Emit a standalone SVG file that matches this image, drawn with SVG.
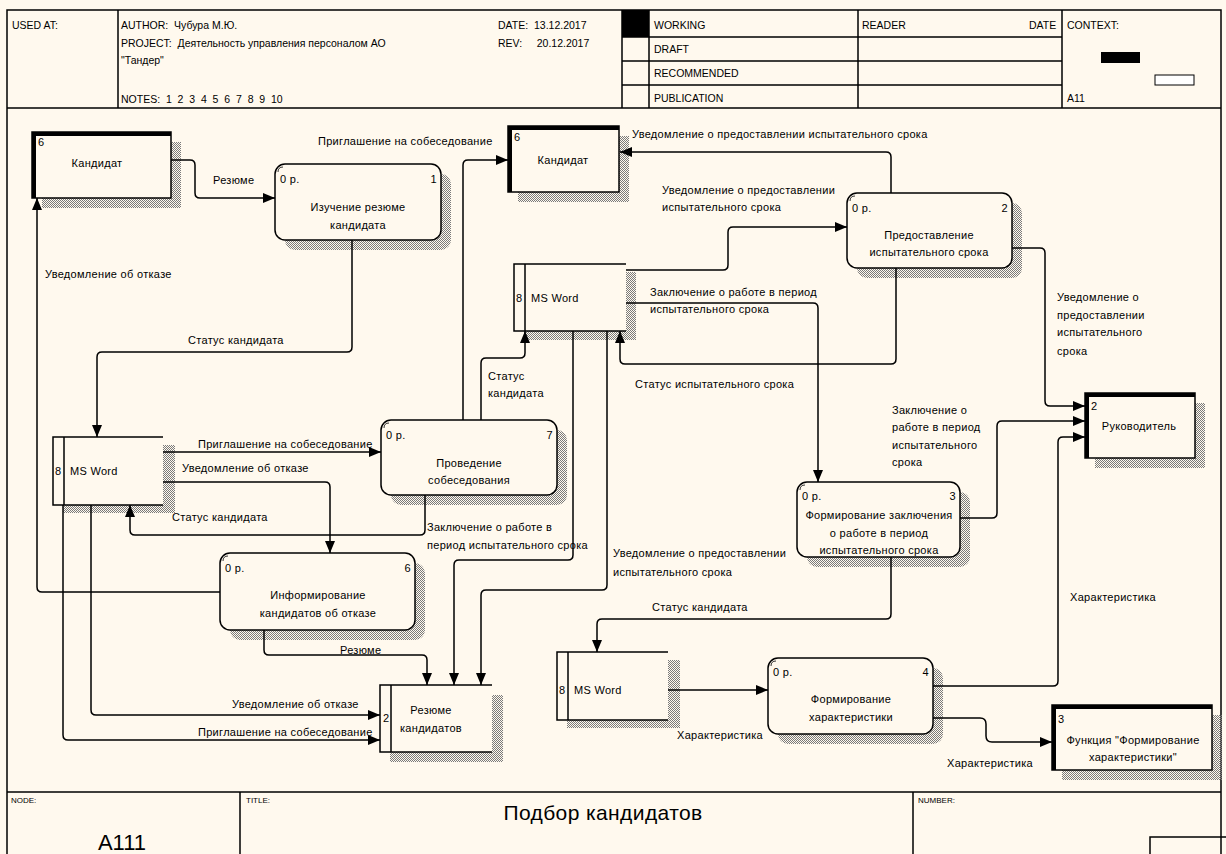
<svg xmlns="http://www.w3.org/2000/svg" width="1226" height="854" viewBox="0 0 1226 854">
<defs>
<pattern id="hatch" width="2" height="2" patternUnits="userSpaceOnUse"><rect width="1" height="1" fill="#7a7a7a"/><rect x="1" y="1" width="1" height="1" fill="#7a7a7a"/></pattern>
<marker id="ah" markerUnits="userSpaceOnUse" markerWidth="12" markerHeight="10" refX="12" refY="5" orient="auto"><path d="M0,0 L12,5 L0,10 z" fill="#000"/></marker>
<style>
text{font-family:"Liberation Sans",Arial,sans-serif;font-size:11px;fill:#000;letter-spacing:0.3px}
.m{text-anchor:middle}
.e{text-anchor:end}
.box{fill:#FFF9EE;stroke:#000;stroke-width:1.5}
.bg{fill:#FFF9EE}
.sh{fill:url(#hatch)}
.ln{fill:none;stroke:#000;stroke-width:1.5}
.a{marker-end:url(#ah)}
.thick{fill:none;stroke:#000;stroke-width:4}
.tick{fill:none;stroke:#000;stroke-width:0.8}
.hd{font-size:10.5px;letter-spacing:0}
.pre{white-space:pre}
.sm{font-size:8px;letter-spacing:0}
</style>
</defs>

<rect width="1226" height="854" class="bg"/>

<!-- drawing frame, header and footer -->
<g id="frame">
<rect x="7" y="10" width="1214" height="860" class="ln"/>
<path class="ln" d="M7,108 H1221 M118,10 V108 M622,10 V108 M649,10 V108 M858,10 V108 M1062,10 V108 M622,37 H1062 M622,61 H1062 M622,85 H1062"/>
<rect x="622" y="10" width="27" height="27" fill="#000"/>
<rect x="1101" y="52" width="39" height="11" fill="#000"/>
<rect x="1155" y="75" width="39" height="10" fill="#fff" stroke="#000" stroke-width="1"/>
<path class="ln" d="M7,792 H1221 M240,792 V854 M913,792 V854"/>
<rect x="1150" y="837" width="80" height="30" class="ln"/>
<text class="hd" x="12" y="29">USED AT:</text>
<text class="hd pre" xml:space="preserve" x="121" y="29">AUTHOR:  Чубура М.Ю.</text>
<text class="hd pre" xml:space="preserve" x="121" y="47">PROJECT:  Деятельность управления персоналом АО</text>
<text class="hd" x="121" y="64">"Тандер"</text>
<text class="hd pre" xml:space="preserve" x="121" y="103">NOTES:  1  2  3  4  5  6  7  8  9  10</text>
<text class="hd pre" xml:space="preserve" x="498" y="29">DATE:  13.12.2017</text>
<text class="hd pre" xml:space="preserve" x="498" y="47">REV:     20.12.2017</text>
<text class="hd" x="654" y="29">WORKING</text>
<text class="hd" x="654" y="53">DRAFT</text>
<text class="hd" x="654" y="77">RECOMMENDED</text>
<text class="hd" x="654" y="102">PUBLICATION</text>
<text class="hd" x="862" y="29">READER</text>
<text class="hd" x="1029" y="29">DATE</text>
<text class="hd" x="1067" y="29">CONTEXT:</text>
<text class="hd" x="1067" y="102">A11</text>
<text class="sm" x="11" y="803">NODE:</text>
<text class="sm" x="246" y="803">TITLE:</text>
<text class="sm" x="918" y="803">NUMBER:</text>
<text x="122" y="850" class="m" style="font-size:22px;letter-spacing:0">A111</text>
<text x="603" y="820" class="m" style="font-size:21px;letter-spacing:0.4px">Подбор кандидатов</text>
</g>

<!-- external entities -->
<g id="kandidat-1">
<rect class="sh" x="42" y="142" width="139" height="66"/>
<rect class="box" x="32" y="132" width="139" height="66"/>
<path class="thick" d="M34,198 V134 H171"/>
<text x="38" y="146">6</text>
<text class="m" x="97" y="167">Кандидат</text>
</g>
<g id="kandidat-2">
<rect class="sh" x="518" y="136" width="111" height="66"/>
<rect class="box" x="508" y="126" width="111" height="66"/>
<path class="thick" d="M510,192 V128 H619"/>
<text x="514" y="141">6</text>
<text class="m" x="563" y="164">Кандидат</text>
</g>
<g id="rukovoditel">
<rect class="sh" x="1095" y="403" width="110" height="65"/>
<rect class="box" x="1085" y="393" width="110" height="65"/>
<path class="thick" d="M1087,458 V395 H1195"/>
<text x="1091" y="410">2</text>
<text class="m" x="1139" y="430">Руководитель</text>
</g>
<g id="funkciya">
<rect class="sh" x="1062" y="715" width="160" height="65"/>
<rect class="box" x="1052" y="705" width="160" height="65"/>
<path class="thick" d="M1054,770 V707 H1212"/>
<text x="1058" y="723">3</text>
<text class="m" x="1133" y="744">Функция "Формирование</text>
<text class="m" x="1133" y="761">характеристики"</text>
</g>

<!-- processes -->
<g id="proc-1">
<rect class="sh" x="285" y="174" width="166" height="76" rx="10"/>
<rect class="box" x="275" y="164" width="166" height="76" rx="10"/>
<path class="tick" d="M278,172 Q278,167 283,167"/>
<text x="280" y="183">0 р.</text>
<text class="e" x="437" y="183">1</text>
<text class="m" x="358" y="211">Изучение резюме</text>
<text class="m" x="358" y="229">кандидата</text>
</g>
<g id="proc-2">
<rect class="sh" x="857" y="203" width="165" height="75" rx="10"/>
<rect class="box" x="847" y="193" width="165" height="75" rx="10"/>
<path class="tick" d="M850,201 Q850,196 855,196"/>
<text x="852" y="212">0 р.</text>
<text class="e" x="1008" y="212">2</text>
<text class="m" x="929" y="239">Предоставление</text>
<text class="m" x="929" y="256">испытательного срока</text>
</g>
<g id="proc-7">
<rect class="sh" x="391" y="430" width="176" height="75" rx="10"/>
<rect class="box" x="381" y="420" width="176" height="75" rx="10"/>
<path class="tick" d="M384,428 Q384,423 389,423"/>
<text x="386" y="439">0 р.</text>
<text class="e" x="553" y="439">7</text>
<text class="m" x="469" y="467">Проведение</text>
<text class="m" x="469" y="484">собеседования</text>
</g>
<g id="proc-3">
<rect class="sh" x="807" y="492" width="163" height="75" rx="10"/>
<rect class="box" x="797" y="482" width="163" height="75" rx="10"/>
<path class="tick" d="M800,490 Q800,485 805,485"/>
<text x="802" y="500">0 р.</text>
<text class="e" x="956" y="500">3</text>
<text class="m" x="879" y="519">Формирование заключения</text>
<text class="m" x="879" y="537">о работе в период</text>
<text class="m" x="879" y="554">испытательного срока</text>
</g>
<g id="proc-6">
<rect class="sh" x="230" y="563" width="195" height="77" rx="10"/>
<rect class="box" x="220" y="553" width="195" height="77" rx="10"/>
<path class="tick" d="M223,561 Q223,556 228,556"/>
<text x="225" y="572">0 р.</text>
<text class="e" x="411" y="572">6</text>
<text class="m" x="318" y="599">Информирование</text>
<text class="m" x="318" y="617">кандидатов об отказе</text>
</g>
<g id="proc-4">
<rect class="sh" x="778" y="668" width="165" height="76" rx="10"/>
<rect class="box" x="768" y="658" width="165" height="76" rx="10"/>
<path class="tick" d="M771,666 Q771,661 776,661"/>
<text x="773" y="676">0 р.</text>
<text class="e" x="929" y="676">4</text>
<text class="m" x="851" y="703">Формирование</text>
<text class="m" x="851" y="721">характеристики</text>
</g>

<!-- data stores -->
<g id="store-msword-1">
<rect class="sh" x="524" y="272" width="112" height="68"/>
<rect class="bg" x="514" y="264" width="112" height="67"/>
<path class="ln" d="M626,264 H514 V331 H626 M525,264 V331"/>
<text x="516" y="302">8</text>
<text x="531" y="302">MS Word</text>
</g>
<g id="store-msword-2">
<rect class="sh" x="63" y="445" width="112" height="68"/>
<rect class="bg" x="53" y="437" width="110" height="68"/>
<path class="ln" d="M163,437 H53 V505 H163 M64,437 V505"/>
<text x="55" y="475">8</text>
<text x="70" y="475">MS Word</text>
</g>
<g id="store-msword-3">
<rect class="sh" x="567" y="660" width="113" height="68"/>
<rect class="bg" x="557" y="652" width="111" height="68"/>
<path class="ln" d="M668,652 H557 V720 H668 M568,652 V720"/>
<text x="559" y="694">8</text>
<text x="574" y="694">MS Word</text>
</g>
<g id="store-rezume">
<rect class="sh" x="390" y="695" width="113" height="67"/>
<rect class="bg" x="380" y="685" width="112" height="67"/>
<path class="ln" d="M492,685 H380 V752 H492 M391,685 V752"/>
<text x="383" y="722">2</text>
<text class="m" x="431" y="714">Резюме</text>
<text class="m" x="431" y="732">кандидатов</text>
</g>

<!-- connectors -->
<g id="connectors" class="ln">
<path class="a" d="M171,160 H190 Q195,160 195,165 V193 Q195,198 200,198 H275"/>
<path class="a" d="M352,240 V347 Q352,352 347,352 H102 Q97,352 97,357 V437"/>
<path class="a" d="M220,592 H42 Q37,592 37,587 V198"/>
<path class="a" d="M463,420 V165 Q463,160 468,160 H508"/>
<path class="a" d="M891,193 V157 Q891,152 886,152 H620"/>
<path class="a" d="M626,270 H723 Q728,270 728,265 V232 Q728,227 733,227 H847"/>
<path class="a" d="M626,303 H813 Q818,303 818,308 V482"/>
<path class="a" d="M481,420 V363 Q481,358 486,358 H520 Q525,358 525,353 V331"/>
<path class="a" d="M896,268 V359 Q896,364 891,364 H625 Q620,364 620,359 V331"/>
<path class="a" d="M573,331 V555 Q573,560 568,560 H459 Q454,560 454,565 V685"/>
<path class="a" d="M607,331 V585 Q607,590 602,590 H486 Q481,590 481,595 V685"/>
<path class="a" d="M1012,248 H1040 Q1045,248 1045,253 V401 Q1045,406 1050,406 H1085"/>
<path class="a" d="M960,518 H992 Q997,518 997,513 V426 Q997,421 1002,421 H1085"/>
<path class="a" d="M933,686 H1053 Q1058,686 1058,681 V442 Q1058,437 1063,437 H1085"/>
<path class="a" d="M891,557 V614 Q891,619 886,619 H602 Q597,619 597,624 V652"/>
<path class="a" d="M668,690 H768"/>
<path class="a" d="M933,718 H980 Q986,718 986,724 V736 Q986,742 992,742 H1052"/>
<path class="a" d="M163,452 H381"/>
<path class="a" d="M163,482 H325 Q330,482 330,487 V553"/>
<path class="a" d="M425,495 V530 Q425,535 420,535 H135 Q130,535 130,530 V505"/>
<path class="a" d="M91,505 V710 Q91,715 96,715 H380"/>
<path class="a" d="M63,505 V735 Q63,740 68,740 H380"/>
<path class="a" d="M264,630 V650 Q264,655 269,655 H422 Q427,655 427,660 V685"/>
</g>

<!-- connector labels -->
<g id="connector-labels">
<text x="213" y="184">Резюме</text>
<text x="45" y="278">Уведомление об отказе</text>
<text x="188" y="344">Статус кандидата</text>
<text x="318" y="145">Приглашение на собеседование</text>
<text x="632" y="138">Уведомление о предоставлении испытательного срока</text>
<text x="662" y="194">Уведомление о предоставлении</text>
<text x="662" y="211">испытательного срока</text>
<text x="650" y="296">Заключение о работе в период</text>
<text x="650" y="313">испытательного срока</text>
<text x="635" y="388">Статус испытательного срока</text>
<text x="488" y="380">Статус</text>
<text x="488" y="397">кандидата</text>
<text x="1057" y="301">Уведомление о</text>
<text x="1057" y="319">предоставлении</text>
<text x="1057" y="336">испытательного</text>
<text x="1057" y="355">срока</text>
<text x="892" y="414">Заключение о</text>
<text x="892" y="431">работе в период</text>
<text x="892" y="449">испытательного</text>
<text x="892" y="466">срока</text>
<text x="198" y="448">Приглашение на собеседование</text>
<text x="182" y="472">Уведомление об отказе</text>
<text x="172" y="521">Статус кандидата</text>
<text x="427" y="531">Заключение о работе в</text>
<text x="427" y="549">период испытательного срока</text>
<text x="613" y="557">Уведомление о предоставлении</text>
<text x="613" y="576">испытательного срока</text>
<text x="652" y="611">Статус кандидата</text>
<text x="340" y="654">Резюме</text>
<text x="232" y="708">Уведомление об отказе</text>
<text x="198" y="736">Приглашение на собеседование</text>
<text x="677" y="739">Характеристика</text>
<text x="1070" y="601">Характеристика</text>
<text x="947" y="767">Характеристика</text>
</g>
</svg>
